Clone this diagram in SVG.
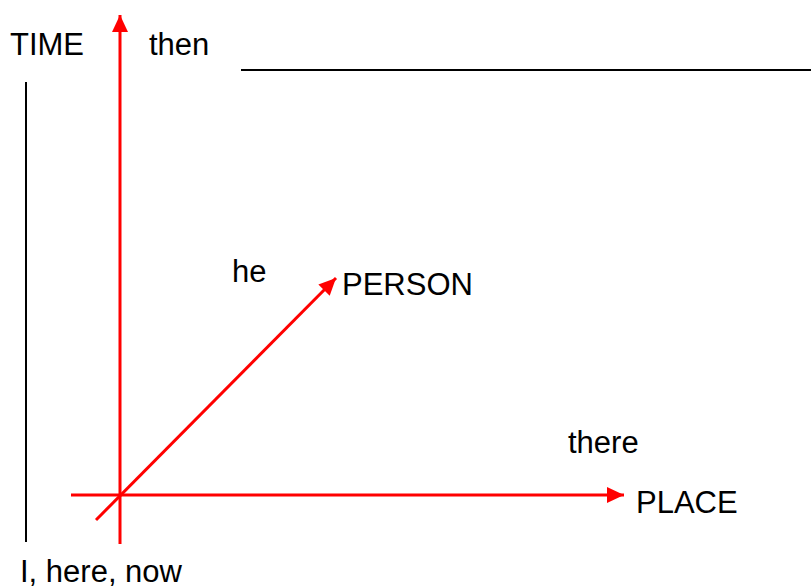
<svg xmlns="http://www.w3.org/2000/svg" width="811" height="588" viewBox="0 0 811 588">
<style>
.t{font-family:"Liberation Sans",Arial,sans-serif;font-size:31px;fill:#000}
.r{stroke:#ff0000;stroke-width:3;fill:none}
.k{stroke:#000;stroke-width:2;fill:none}
</style>
<defs>
<marker id="ah" markerUnits="userSpaceOnUse" markerWidth="17" markerHeight="16" refX="17" refY="8" orient="auto" viewBox="0 0 17 16">
<path d="M0,0 L17,8 L0,16 z" fill="#ff0000"/>
</marker>
</defs>
<rect width="811" height="588" fill="#fff"/>
<g id="connectors">
<line class="k" x1="26" y1="82" x2="26" y2="542"/>
<line class="k" x1="241" y1="70" x2="811" y2="70"/>
<line class="r" x1="120" y1="544" x2="120" y2="15" marker-end="url(#ah)"/>
<line class="r" x1="71" y1="495" x2="624" y2="495" marker-end="url(#ah)"/>
<line class="r" x1="96" y1="520" x2="336" y2="278" marker-end="url(#ah)"/>
</g>
<g id="time"><text class="t" x="10" y="55">TIME</text></g>
<g id="then"><text class="t" x="149" y="55">then</text></g>
<g id="he"><text class="t" x="232" y="282">he</text></g>
<g id="person"><text class="t" x="342" y="295">PERSON</text></g>
<g id="there"><text class="t" x="568" y="453">there</text></g>
<g id="place"><text class="t" x="636" y="513">PLACE</text></g>
<g id="origin"><text class="t" x="20" y="582">I, here, now</text></g>
</svg>
